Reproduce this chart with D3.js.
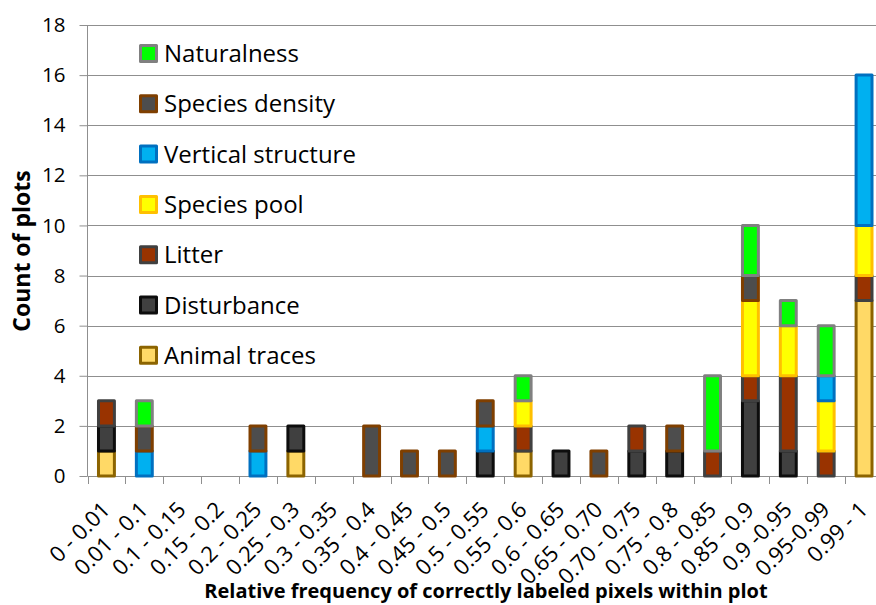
<!DOCTYPE html>
<html><head><meta charset="utf-8">
<script src="https://cdn.jsdelivr.net/npm/d3@7"></script>
<style>body{margin:0;background:#fff;}svg{display:block;}</style>
</head><body>
<svg id="c" width="876" height="605"></svg>
<script>
const categories = ["0 - 0.01","0.01 - 0.1","0.1 - 0.15","0.15 - 0.2","0.2 - 0.25","0.25 - 0.3","0.3 - 0.35","0.35 - 0.4","0.4 - 0.45","0.45 - 0.5","0.5 - 0.55","0.55 - 0.6","0.6 - 0.65","0.65 - 0.70","0.70 - 0.75","0.75 - 0.8","0.8 - 0.85","0.85 - 0.9","0.9 -0.95","0.95-0.99","0.99 - 1"];
const seriesNames = ["Animal traces","Disturbance","Litter","Species pool","Vertical structure","Species density","Naturalness"];
const animalTraces      = [1,0,0,0,0,1,0,0,0,0,0,1,0,0,0,0,0,0,0,0,7];
const disturbance       = [1,0,0,0,0,1,0,0,0,0,1,0,1,0,1,1,0,3,1,0,0];
const litter            = [1,0,0,0,0,0,0,0,0,0,0,1,0,0,1,0,1,1,3,1,1];
const speciesPool       = [0,0,0,0,0,0,0,0,0,0,0,1,0,0,0,0,0,3,2,2,2];
const verticalStructure = [0,1,0,0,1,0,0,0,0,0,1,0,0,0,0,0,0,0,0,1,6];
const speciesDensity    = [0,1,0,0,1,0,0,2,1,1,1,0,0,1,0,1,0,1,0,0,0];
const naturalness       = [0,1,0,0,0,0,0,0,0,0,0,1,0,0,0,0,3,2,1,2,0];
const yTicks = [0,2,4,6,8,10,12,14,16,18];
const fills   = ["#FFD966","#404040","#993300","#FFFF00","#00B0F0","#4D4D4D","#00FF00"];
const strokes = ["#8C6400","#0D0D0D","#404040","#FFC000","#0070C0","#7F3F00","#808080"];

const seriesData = [animalTraces,disturbance,litter,speciesPool,verticalStructure,speciesDensity,naturalness];
const svg = d3.select("#c");
const pL = 87.5, pR = 883, pT = 25, pB = 476;
const x = d3.scaleBand().domain(categories).range([pL, pR]).padding(0);
const y = d3.scaleLinear().domain([0,18]).range([pB, pT]);
const font = "'Open Sans', 'Noto Sans', sans-serif";

// gridlines
svg.append("g").selectAll("line").data(yTicks.filter(d=>d>0)).join("line")
  .attr("x1", pL).attr("x2", 876).attr("y1", d=>Math.round(y(d))+0.5).attr("y2", d=>Math.round(y(d))+0.5)
  .attr("stroke","#8f8f8f").attr("stroke-width",1);

// y axis
const yAxis = d3.axisLeft(y).tickValues(yTicks).tickSize(8).tickPadding(14);
const gy = svg.append("g").attr("transform",`translate(${pL},0)`).call(yAxis);
gy.select(".domain").attr("stroke","#8f8f8f").attr("d",`M0,${pT}V${pB}`);
gy.selectAll(".tick line").attr("stroke","#8f8f8f");
gy.selectAll(".tick text").attr("font-family",font).attr("font-size",20.5).attr("fill","#000");

// x axis line and ticks at boundaries
svg.append("line").attr("x1",pL).attr("x2",876).attr("y1",pB+0.5).attr("y2",pB+0.5).attr("stroke","#8f8f8f");
svg.append("g").selectAll("line").data(categories).join("line")
  .attr("x1",d=>Math.round(x(d))+0.5).attr("x2",d=>Math.round(x(d))+0.5)
  .attr("y1",pB).attr("y2",pB+8).attr("stroke","#8f8f8f");

// bars
const stacked = d3.stack().keys(d3.range(seriesNames.length)).value((d,k)=>seriesData[k][d])(d3.range(categories.length));
const barW = x.bandwidth()*0.42;
stacked.forEach((layer,k)=>{
  svg.append("g").selectAll("rect").data(layer.filter(d=>d[1]>d[0])).join("rect")
    .attr("x",d=>x(categories[d.data]) + (x.bandwidth()-barW)/2)
    .attr("width",barW)
    .attr("y",d=>y(d[1]))
    .attr("height",d=>y(d[0])-y(d[1]))
    .attr("fill",fills[k]).attr("stroke",strokes[k]).attr("stroke-width",3)
    .attr("stroke-linejoin","round");
});

// x tick labels
svg.append("g").selectAll("text").data(categories).join("text")
  .attr("transform",d=>`translate(${x(d)+x.bandwidth()/2+5},${pB+35}) rotate(-45)`)
  .attr("text-anchor","end").attr("font-family",font).attr("font-size",22).text(d=>d);

// titles
svg.append("text").attr("x",486).attr("y",598).attr("text-anchor","middle")
  .attr("font-family",font).attr("font-weight","bold").attr("font-size",20)
  .text("Relative frequency of correctly labeled pixels within plot");
svg.append("text").attr("transform","translate(30,251) rotate(-90)").attr("text-anchor","middle")
  .attr("font-family",font).attr("font-weight","bold").attr("font-size",23)
  .text("Count of plots");

// legend
const legendOrder = d3.range(seriesNames.length).reverse();
const lg = svg.append("g").selectAll("g").data(legendOrder).join("g")
  .attr("transform",(d,i)=>`translate(140,${53.5 + i*50.3})`);
lg.append("rect").attr("x",0.5).attr("y",-8).attr("width",16).attr("height",16)
  .attr("fill",d=>fills[d]).attr("stroke",d=>strokes[d]).attr("stroke-width",3).attr("stroke-linejoin","round");
lg.append("text").attr("x",24).attr("y",0).attr("dy","0.36em")
  .attr("font-family",font).attr("font-size",24).text(d=>seriesNames[d]);
</script>
</body></html>
